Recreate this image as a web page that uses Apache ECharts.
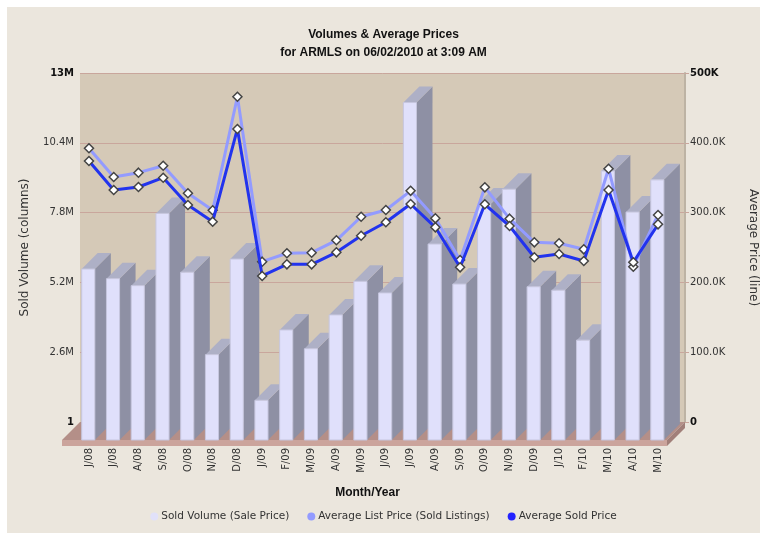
<!DOCTYPE html>
<html><head><meta charset="utf-8">
<script src="https://cdn.jsdelivr.net/npm/echarts@6/dist/echarts.min.js"></script>
<style>html,body{margin:0;padding:0;background:#fff}#c{width:767px;height:540px}</style>
</head><body><div id="c"></div>
<script>
// ---- data ----
const categories = ['J/08','J/08','A/08','S/08','O/08','N/08','D/08','J/09','F/09','M/09','A/09','M/09','J/09','J/09','A/09','S/09','O/09','N/09','D/09','J/10','F/10','M/10','A/10','M/10'];
const soldVolume = [6.37e6,6.01e6,5.75e6,8.44e6,6.25e6,3.18e6,6.74e6,1.48e6,4.10e6,3.40e6,4.66e6,5.91e6,5.48e6,12.57e6,7.30e6,5.81e6,8.79e6,9.34e6,5.71e6,5.58e6,3.72e6,10.02e6,8.49e6,9.69e6];
const avgListPrice = [392100,351000,357200,367200,327700,303300,466000,229700,241700,242600,260300,294100,303700,331200,291800,232100,336200,291300,257400,256000,247400,362900,222500,296600];
const avgSoldPrice = [373900,332400,336700,350000,310900,287000,419800,209200,225900,225900,243100,266900,286100,312300,278900,221600,311900,280800,236000,240700,230700,332400,228800,283200];
const leftTicks = ['1','2.6M','5.2M','7.8M','10.4M','13M'];
const rightTicks = ['0','100.0K','200.0K','300.0K','400.0K','500K'];
const seriesNames = ['Sold Volume (Sale Price)','Average List Price (Sold Listings)','Average Sold Price'];

const FONT = 'DejaVu Sans';
const DEPTH = 18;       // 3D depth offset of the floor / front plane
const BAR_DEPTH = 16;   // 3D depth of the bars

const chart = echarts.init(document.getElementById('c'), null, {renderer:'canvas'});

function tickFormatter(ticks, step){
  return function(v){
    const i = Math.round(v/step);
    const t = ticks[i];
    if (i === 0 || i === ticks.length-1) return '{b|' + t + '}';
    return t;
  };
}

const option = {
  backgroundColor: '#ffffff',
  animation: false,
  graphic: [{
    type:'rect', z:-10, silent:true,
    shape:{x:7,y:7,width:753,height:526},
    style:{fill:'#ebe6dd'}
  }],
  title: {
    text: 'Volumes & Average Prices',
    subtext: 'for ARMLS on 06/02/2010 at 3:09 AM',
    left: 'center', top: 24, itemGap: 6,
    textStyle: {fontFamily:'Liberation Sans', fontSize:12, fontWeight:'bold', color:'#111'},
    subtextStyle: {fontFamily:'Liberation Sans', fontSize:12, fontWeight:'bold', color:'#111'}
  },
  legend: {
    top: 506, left: 'center', icon:'circle', itemWidth:8, itemHeight:8, itemGap:18,
    textStyle:{fontFamily:FONT, fontSize:10.5, color:'#333', padding:[0,0,0,-2]},
    data: seriesNames
  },
  grid: [
    {left:80, right:74, top:73, height:349, show:true, backgroundColor:'#d5c9b7', borderWidth:0},
    {left:76.6, width:593.8, top:73, height:349}
  ],
  xAxis: [
    {gridIndex:0, type:'value', min:0, max:1, show:false},
    {gridIndex:1, type:'category', data:categories, boundaryGap:true,
     axisLine:{show:false}, axisTick:{show:false},
     axisLabel:{rotate:90, margin:26, fontFamily:FONT, fontSize:10, color:'#333', interval:0},
     name:'Month/Year', nameLocation:'middle', nameGap:65,
     nameTextStyle:{fontFamily:'Liberation Sans', fontSize:12, fontWeight:'bold', color:'#111', padding:[0,12,0,0]}}
  ],
  yAxis: [
    {gridIndex:0, type:'value', min:0, max:13e6, interval:2.6e6, position:'left',
     axisLine:{show:false}, axisTick:{show:false},
     splitLine:{show:true, lineStyle:{color:'#c9a69c', width:1}},
     axisLabel:{margin:6, fontFamily:FONT, fontSize:10, color:'#333', formatter:tickFormatter(leftTicks,2.6e6),
       rich:{b:{fontFamily:FONT, fontSize:10, fontWeight:'bold', color:'#111'}}},
     name:'Sold Volume (columns)', nameLocation:'middle', nameGap:49,
     nameTextStyle:{fontFamily:FONT, fontSize:12, color:'#333'}},
    {gridIndex:0, type:'value', min:0, max:5e5, interval:1e5, position:'right',
     axisLine:{show:true, lineStyle:{color:'#bdb3a4', width:2}},
     axisTick:{show:true, length:4, lineStyle:{color:'#c9a69c'}},
     splitLine:{show:false},
     axisLabel:{margin:5, fontFamily:FONT, fontSize:10, color:'#333', formatter:tickFormatter(rightTicks,1e5),
       rich:{b:{fontFamily:FONT, fontSize:10, fontWeight:'bold', color:'#111'}}},
     name:'Average Price (line)', nameLocation:'middle', nameGap:62, nameRotate:-90,
     nameTextStyle:{fontFamily:FONT, fontSize:12, color:'#333'}},
    {gridIndex:1, type:'value', min:0, max:13e6, interval:2.6e6, show:false},
    {gridIndex:1, type:'value', min:0, max:5e5, interval:1e5, show:false, position:'right'}
  ],
  series: [
    {
      type:'custom', name:'floor', xAxisIndex:0, yAxisIndex:0, data:[[0,0]], silent:true, clip:false, z:1,
      renderItem: function(params, api){
        const cs = params.coordSys;
        const bx0 = cs.x, bx1 = cs.x+cs.width, by = cs.y+cs.height;
        const fx0 = bx0-DEPTH, fx1 = bx1-DEPTH, fy = by+DEPTH, th = 6;
        return {type:'group', children:[
          {type:'polygon', shape:{points:[[bx0,by],[bx1,by],[fx1,fy],[fx0,fy]]}, style:{fill:'#b48f88'}},
          {type:'rect', shape:{x:fx0,y:fy,width:fx1-fx0,height:th}, style:{fill:'#cba49c'}},
          {type:'polygon', shape:{points:[[fx1,fy],[bx1,by],[bx1,by+th],[fx1,fy+th]]}, style:{fill:'#a17f79'}}
        ]};
      }
    },
    {
      type:'custom', name:seriesNames[0], xAxisIndex:1, yAxisIndex:2, clip:false, z:2,
      itemStyle:{color:'#e1e1f9'},
      data: soldVolume.map((v,i)=>[i,v]),
      renderItem: function(params, api){
        const i = api.value(0), v = api.value(1);
        const top = api.coord([i, v]);
        const base = api.coord([i, 0]);
        const bw = api.size([1,0])[0]*0.53;
        const x0 = top[0]-bw/2-0.7, x1 = x0+bw;
        const yT = top[1]+DEPTH, yB = base[1]+DEPTH;
        const d = BAR_DEPTH;
        return {type:'group', children:[
          {type:'polygon', shape:{points:[[x1,yT],[x1+d,yT-d],[x1+d,yB-d],[x1,yB]]}, style:{fill:'#8e90a4'}},
          {type:'polygon', shape:{points:[[x0,yT],[x1,yT],[x1+d,yT-d],[x0+d,yT-d]]}, style:{fill:'#aeb0c6'}},
          {type:'rect', shape:{x:x0,y:yT,width:bw,height:yB-yT}, style:{fill:'#e0e0fb', stroke:'#c6c6de', lineWidth:1}}
        ]};
      }
    },
    {
      type:'line', name:seriesNames[1], xAxisIndex:1, yAxisIndex:3, data:avgListPrice, z:5,
      color:'#939bff',
      lineStyle:{color:'#939bff', width:3},
      symbol:'diamond', symbolSize:9, showAllSymbol:true,
      itemStyle:{color:'#ffffff', borderColor:'#444', borderWidth:1.5}
    },
    {
      type:'line', name:seriesNames[2], xAxisIndex:1, yAxisIndex:3, data:avgSoldPrice, z:6,
      color:'#2233ee',
      lineStyle:{color:'#2233ee', width:3},
      symbol:'diamond', symbolSize:9, showAllSymbol:true,
      itemStyle:{color:'#ffffff', borderColor:'#444', borderWidth:1.5}
    }
  ]
};
option.legend.data = [
  {name:seriesNames[0], itemStyle:{color:'#e1e1f9', borderWidth:0}},
  {name:seriesNames[1], itemStyle:{color:'#939bff', borderWidth:0}},
  {name:seriesNames[2], itemStyle:{color:'#2222ff', borderWidth:0}}
];
chart.setOption(option);
</script>
</body></html>
